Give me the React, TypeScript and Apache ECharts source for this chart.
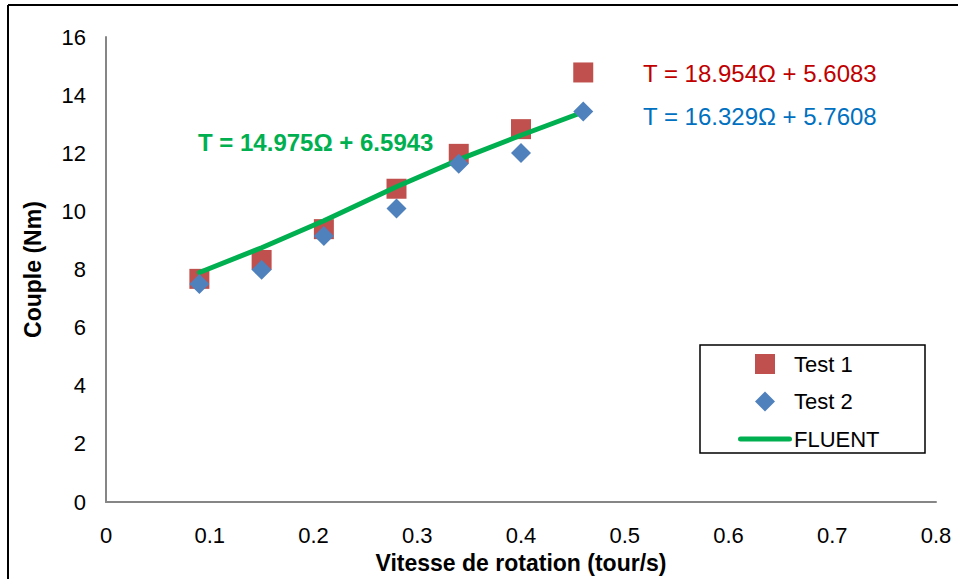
import React, { useEffect, useRef } from "react";
import * as echarts from "echarts";

const xTest = [0.09, 0.15, 0.21, 0.28, 0.34, 0.4, 0.46];
const test1 = [7.68, 8.33, 9.39, 10.78, 11.98, 12.83, 14.78];
const test2 = [7.5, 7.99, 9.15, 10.1, 11.64, 12.01, 13.44];
const fluent = [7.9, 8.75, 9.68, 10.85, 11.78, 12.62, 13.42];

const xTitle = "Vitesse de rotation (tour/s)";
const yTitle = "Couple (Nm)";
const eqTest1 = "T = 18.954Ω + 5.6083";
const eqTest2 = "T = 16.329Ω + 5.7608";
const eqFluent = "T = 14.975Ω + 6.5943";

const FONT = "'Liberation Sans', Arial, sans-serif";

export default function App() {
  const ref = useRef<HTMLDivElement>(null);
  useEffect(() => {
    if (!ref.current) return;
    const chart = echarts.init(ref.current, undefined, { renderer: "svg" });
    const pair = (ys: number[]) => xTest.map((x, i) => [x, ys[i]]);
    chart.setOption({
      animation: false,
      backgroundColor: "#ffffff",
      textStyle: { fontFamily: FONT },
      grid: { left: 106, right: 22, top: 37, bottom: 73, containLabel: false },
      xAxis: {
        type: "value",
        min: 0,
        max: 0.8,
        interval: 0.1,
        name: xTitle,
        nameLocation: "middle",
        nameGap: 44,
        nameTextStyle: { fontFamily: FONT, fontSize: 23, fontWeight: "bold", color: "#000" },
        axisLine: { show: true, onZero: false, lineStyle: { color: "#868686", width: 2 } },
        axisTick: { show: false },
        splitLine: { show: false },
        axisLabel: { fontFamily: FONT, fontSize: 22, color: "#000", margin: 22 },
      },
      yAxis: {
        type: "value",
        min: 0,
        max: 16,
        interval: 2,
        name: yTitle,
        nameLocation: "middle",
        nameGap: 62,
        nameTextStyle: { fontFamily: FONT, fontSize: 23, fontWeight: "bold", color: "#000" },
        axisLine: { show: true, onZero: false, lineStyle: { color: "#868686", width: 2 } },
        axisTick: { show: false },
        splitLine: { show: false },
        axisLabel: { fontFamily: FONT, fontSize: 22, color: "#000", margin: 20 },
      },
      legend: {
        left: 738,
        top: 353,
        orient: "vertical",
        itemWidth: 54,
        itemHeight: 20,
        itemGap: 15.5,
        padding: 0,
        textStyle: { fontFamily: FONT, fontSize: 22, color: "#000", padding: [0, 0, 0, -3] },
        data: [
          { name: "Test 1", icon: "path://M0,0L10,0L10,10L0,10Z" },
          { name: "Test 2", icon: "path://M5,0L10,5L5,10L0,5Z" },
          {
            name: "FLUENT",
            icon: "path://M2.5,0L51.5,0A2.5,2.5,0,0,1,51.5,5L2.5,5A2.5,2.5,0,0,1,2.5,0Z",
            itemStyle: { color: "#00B050" },
          },
        ],
      },
      series: [
        {
          name: "Test 1",
          type: "scatter",
          symbol: "rect",
          symbolSize: 20,
          itemStyle: { color: "#C0504D", opacity: 1 },
          data: pair(test1),
          z: 2,
        },
        {
          name: "FLUENT",
          type: "line",
          symbol: "none",
          showSymbol: false,
          lineStyle: { color: "#00B050", width: 5, cap: "round" },
          itemStyle: { color: "#00B050" },
          data: pair(fluent),
          z: 3,
        },
        {
          name: "Test 2",
          type: "scatter",
          symbol: "diamond",
          symbolSize: 20,
          itemStyle: { color: "#4F81BD", opacity: 1 },
          data: pair(test2),
          z: 4,
        },
      ],
      graphic: [
        { type: "line", shape: { x1: 8, y1: 5, x2: 8, y2: 579 }, style: { stroke: "#000", lineWidth: 2 } },
        { type: "line", shape: { x1: 8, y1: 5, x2: 958, y2: 5 }, style: { stroke: "#000", lineWidth: 2 } },
        {
          type: "rect",
          shape: { x: 700, y: 345, width: 225, height: 108 },
          style: { fill: "none", stroke: "#000", lineWidth: 1.5 },
          z: 10,
        },
        {
          type: "text",
          x: 643,
          y: 73,
          style: { text: eqTest1, fill: "#C00000", font: `24px ${FONT}`, textVerticalAlign: "middle" },
        },
        {
          type: "text",
          x: 643,
          y: 116,
          style: { text: eqTest2, fill: "#0070C0", font: `24px ${FONT}`, textVerticalAlign: "middle" },
        },
        {
          type: "text",
          x: 198,
          y: 142,
          style: { text: eqFluent, fill: "#00B050", font: `bold 24px ${FONT}`, textVerticalAlign: "middle" },
        },
      ],
    });
    return () => chart.dispose();
  }, []);
  return (
    <div
      ref={ref}
      style={{ position: "fixed", left: 0, top: 0, width: 958, height: 579, background: "#fff" }}
    />
  );
}
